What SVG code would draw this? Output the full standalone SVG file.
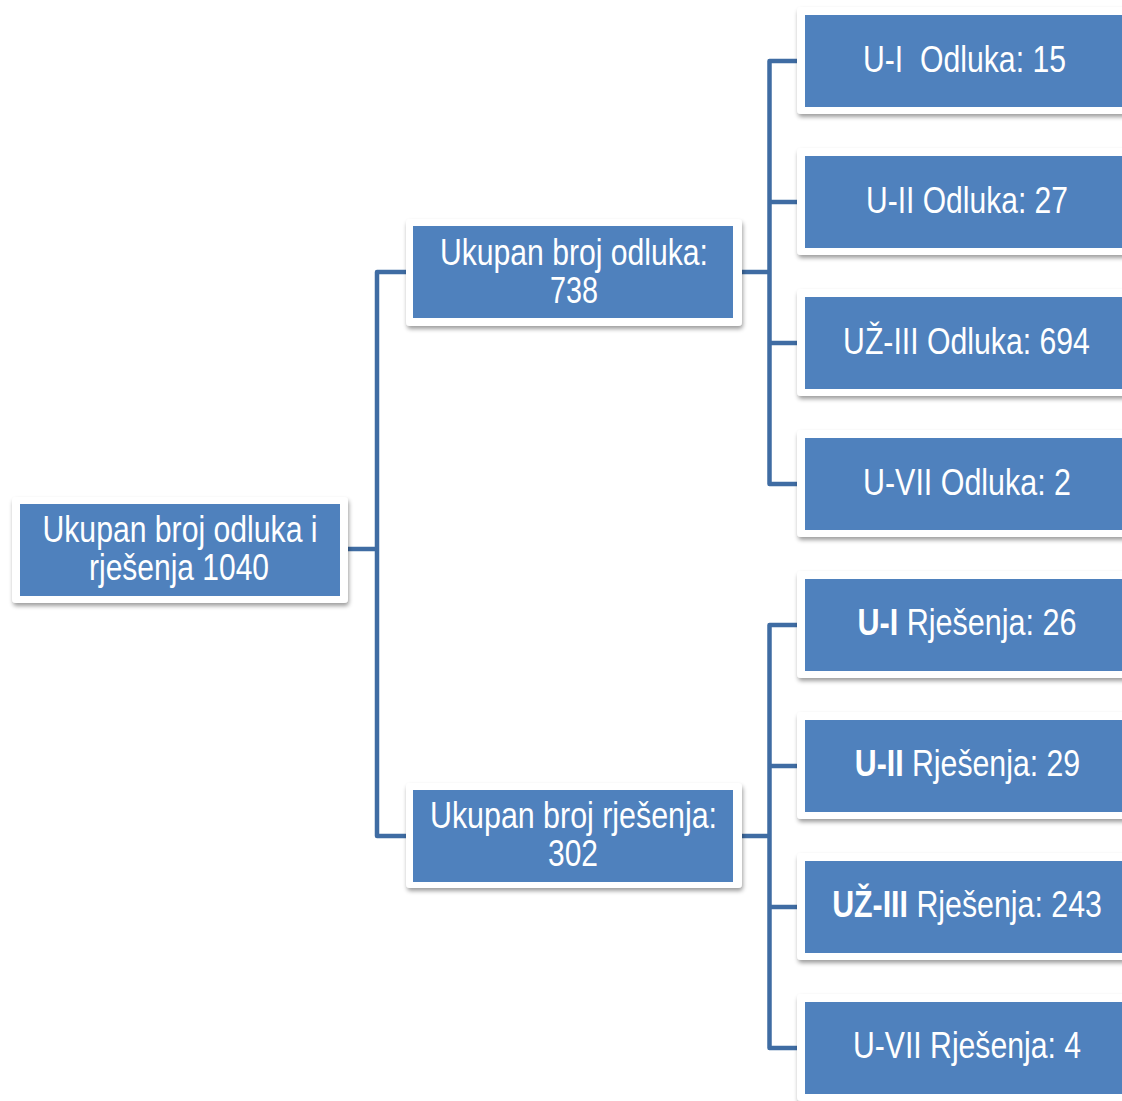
<svg xmlns="http://www.w3.org/2000/svg" width="1122" height="1101" viewBox="0 0 1122 1101">
<defs>
<filter id="sh" x="-10%" y="-20%" width="120%" height="150%">
<feDropShadow dx="1" dy="3" stdDeviation="2.2" flood-color="#000" flood-opacity="0.38"/>
</filter>
<style>
.frame{fill:#fff;filter:url(#sh);}
.box{fill:#4F81BD;}
.lbl{font-family:"Liberation Sans Narrow","Liberation Sans",Arial,sans-serif;font-size:37px;fill:#fff;text-anchor:middle;}
.b{font-weight:bold;}
.con{fill:none;stroke:#3F6CA3;stroke-width:4.5;stroke-linejoin:round;stroke-linecap:butt;}
</style>
</defs>
<rect width="1122" height="1101" fill="#fff"/>
<g id="connectors">
<path class="con" d="M348 549 H377"/>
<path class="con" d="M410 272 H377 V836 H410"/>
<path class="con" d="M742 272 H769.5"/>
<path class="con" d="M800 61 H769.5 V484 H800"/>
<path class="con" d="M769.5 202 H800"/>
<path class="con" d="M769.5 343 H800"/>
<path class="con" d="M742 836 H769.5"/>
<path class="con" d="M800 625 H769.5 V1048 H800"/>
<path class="con" d="M769.5 766 H800"/>
<path class="con" d="M769.5 907 H800"/>
</g>
<g id="root">
<rect class="frame" x="12" y="497" width="336" height="106" rx="4"/>
<rect class="box" x="20" y="504" width="320" height="92"/>
<text class="lbl" x="180" y="542" textLength="275" lengthAdjust="spacingAndGlyphs">Ukupan broj odluka i</text>
<text class="lbl" x="179" y="580" textLength="180" lengthAdjust="spacingAndGlyphs">rješenja 1040</text>
</g>
<g id="odluke">
<rect class="frame" x="406" y="219" width="336" height="107" rx="4"/>
<rect class="box" x="413" y="226" width="320" height="92"/>
<text class="lbl" x="574" y="265" textLength="268" lengthAdjust="spacingAndGlyphs">Ukupan broj odluka:</text>
<text class="lbl" x="574" y="303" textLength="48" lengthAdjust="spacingAndGlyphs">738</text>
</g>
<g id="rjesenja">
<rect class="frame" x="406" y="783" width="336" height="105" rx="4"/>
<rect class="box" x="413" y="790" width="320" height="92"/>
<text class="lbl" x="573.5" y="828" textLength="287" lengthAdjust="spacingAndGlyphs">Ukupan broj rješenja:</text>
<text class="lbl" x="573" y="866" textLength="50" lengthAdjust="spacingAndGlyphs">302</text>
</g>
<g id="leaf-ui-odluka">
<rect class="frame" x="797" y="7" width="330" height="107" rx="4"/>
<rect class="box" x="805" y="15" width="317" height="92"/>
<text class="lbl" x="964.5" y="72" textLength="203" lengthAdjust="spacingAndGlyphs" xml:space="preserve">U-I  Odluka: 15</text>
</g>
<g id="leaf-uii-odluka">
<rect class="frame" x="797" y="148" width="330" height="107" rx="4"/>
<rect class="box" x="805" y="156" width="317" height="92"/>
<text class="lbl" x="967" y="213" textLength="202" lengthAdjust="spacingAndGlyphs">U-II Odluka: 27</text>
</g>
<g id="leaf-uziii-odluka">
<rect class="frame" x="797" y="289" width="330" height="107" rx="4"/>
<rect class="box" x="805" y="297" width="317" height="92"/>
<text class="lbl" transform="translate(966.5 354) scale(0.82 1)" x="0" y="0" textLength="301" lengthAdjust="spacingAndGlyphs">UŽ-III Odluka: 694</text>
</g>
<g id="leaf-uvii-odluka">
<rect class="frame" x="797" y="430" width="330" height="107" rx="4"/>
<rect class="box" x="805" y="438" width="317" height="92"/>
<text class="lbl" x="967" y="495" textLength="208" lengthAdjust="spacingAndGlyphs">U-VII Odluka: 2</text>
</g>
<g id="leaf-ui-rjesenja">
<rect class="frame" x="797" y="571" width="330" height="107" rx="4"/>
<rect class="box" x="805" y="579" width="317" height="92"/>
<text class="lbl" transform="translate(967 635) scale(0.826 1)" x="0" y="0"><tspan class="b">U-I</tspan> Rješenja: 26</text>
</g>
<g id="leaf-uii-rjesenja">
<rect class="frame" x="797" y="712" width="330" height="107" rx="4"/>
<rect class="box" x="805" y="720" width="317" height="92"/>
<text class="lbl" transform="translate(967.5 776) scale(0.818 1)" x="0" y="0"><tspan class="b">U-II</tspan> Rješenja: 29</text>
</g>
<g id="leaf-uziii-rjesenja">
<rect class="frame" x="797" y="853" width="330" height="107" rx="4"/>
<rect class="box" x="805" y="861" width="317" height="92"/>
<text class="lbl" transform="translate(967 917) scale(0.82 1)" x="0" y="0"><tspan class="b">UŽ-III</tspan> Rješenja: 243</text>
</g>
<g id="leaf-uvii-rjesenja">
<rect class="frame" x="797" y="994" width="330" height="107" rx="4"/>
<rect class="box" x="805" y="1002" width="317" height="92"/>
<text class="lbl" transform="translate(967 1058) scale(0.82 1)" x="0" y="0" textLength="278" lengthAdjust="spacingAndGlyphs">U-VII Rješenja: 4</text>
</g>
</svg>
